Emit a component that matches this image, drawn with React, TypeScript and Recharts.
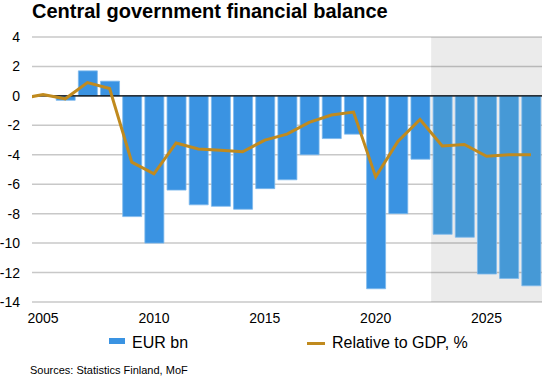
import React from 'react';
import {
    ComposedChart, Bar, Line, XAxis, YAxis, CartesianGrid, ReferenceLine, ReferenceArea, Cell
} from 'recharts';

const years = [2004, 2005, 2006, 2007, 2008, 2009, 2010, 2011, 2012, 2013, 2014, 2015,
    2016, 2017, 2018, 2019, 2020, 2021, 2022, 2023, 2024, 2025, 2026, 2027];
// 2004 has no bar, only the clipped start of the line
const eurBn = [null, 0, -0.3, 1.7, 1.0, -8.2, -10.0, -6.4, -7.4, -7.5, -7.7, -6.3,
    -5.7, -4.0, -2.9, -2.6, -13.1, -8.0, -4.3, -9.4, -9.6, -12.1, -12.4, -12.9];
const gdpPct = [-0.2, 0.1, -0.2, 0.9, 0.5, -4.5, -5.3, -3.2, -3.6, -3.7, -3.8, -3.0,
    -2.6, -1.8, -1.3, -1.1, -5.5, -3.1, -1.6, -3.4, -3.3, -4.1, -4.0, -4.0];
const xTicks = [2005, 2010, 2015, 2020, 2025];
const yTicks = [-14, -12, -10, -8, -6, -4, -2, 0, 2, 4];
const forecastFrom = 2023;

const data = years.map((year, i) => ({ year, eur: eurBn[i], gdp: gdpPct[i] }));

const FONT = '"Liberation Sans", Arial, sans-serif';
const BAR = '#3a93e2';
const BAR_FC = '#4699d6';
const LINE = '#c08a1e';

export default function App() {
    return (
        <div style={{ position: 'absolute', left: 0, top: 0, width: 544, height: 378, background: '#fff', fontFamily: FONT }}>
            <div style={{ position: 'absolute', left: 32, top: 1, fontSize: 20, lineHeight: '20px', fontWeight: 'bold', color: '#000' }}>
                Central government financial balance
            </div>
            <ComposedChart width={544} height={378} data={data}
                margin={{ top: 37, right: 2, left: 0, bottom: 56 }}>
                <CartesianGrid vertical={false} stroke="#c8c8c8" strokeWidth={1.5} />
                {/* forecast shading, translucent so the grid stays visible */}
                <ReferenceArea x1={2022.5} x2={2027.5} y1={-14} y2={4} fill="#000" fillOpacity={0.078} stroke="none" />
                <XAxis dataKey="year" type="number" domain={[2004.5, 2027.5]} ticks={xTicks}
                    allowDataOverflow axisLine={false} tickLine={false} tickSize={0} tickMargin={11}
                    height={20} tick={{ fill: '#000', fontSize: 14, fontFamily: FONT }} />
                <YAxis type="number" domain={[-14, 4]} ticks={yTicks} width={32}
                    axisLine={false} tickLine={false} tickSize={0} tickMargin={12}
                    tick={{ fill: '#000', fontSize: 14, fontFamily: FONT }} />
                <Bar dataKey="eur" barSize={19} isAnimationActive={false} stroke="#7db9ec" strokeWidth={0.8}>
                    {data.map((d, i) => (
                        <Cell key={i} fill={d.year >= forecastFrom ? BAR_FC : BAR} />
                    ))}
                </Bar>
                <ReferenceLine y={0} stroke="#000" strokeWidth={1.2} />
                <Line dataKey="gdp" stroke={LINE} strokeWidth={3} dot={false} type="linear" isAnimationActive={false} />
            </ComposedChart>
            <div style={{ position: 'absolute', left: 109, top: 338, width: 16, height: 6, background: BAR }} />
            <div style={{ position: 'absolute', left: 132, top: 333, fontSize: 16, lineHeight: '20px', color: '#000' }}>EUR bn</div>
            <div style={{ position: 'absolute', left: 307, top: 342, width: 18, height: 3, background: LINE }} />
            <div style={{ position: 'absolute', left: 332, top: 333, fontSize: 16, lineHeight: '20px', color: '#000' }}>Relative to GDP, %</div>
            <div style={{ position: 'absolute', left: 30, top: 364, fontSize: 11, lineHeight: '13px', color: '#000' }}>
                Sources: Statistics Finland, MoF
            </div>
        </div>
    );
}
